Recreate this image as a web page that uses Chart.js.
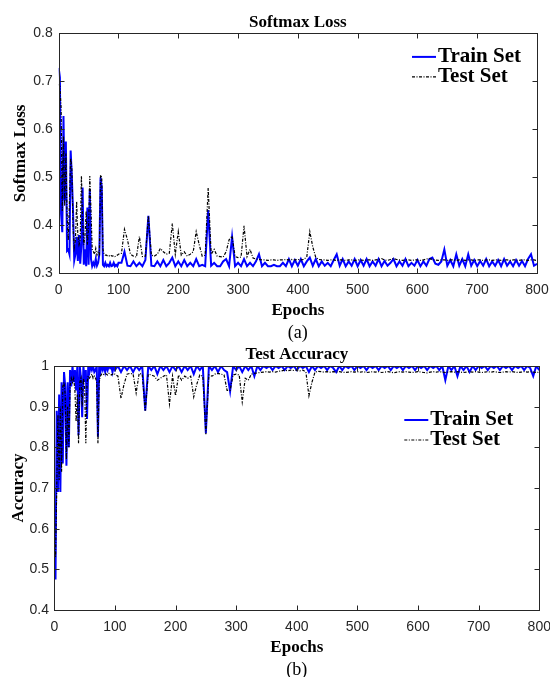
<!DOCTYPE html>
<html>
<head>
<meta charset="utf-8">
<script src="https://cdn.jsdelivr.net/npm/chart.js@4.4.1/dist/chart.umd.min.js"></script>
<style>
    body { margin: 0; background: #fff; overflow: hidden; }
    #lossBox { position: absolute; left: 0; top: 0; width: 550px; height: 345px; }
    #accBox { position: absolute; left: 0; top: 340px; width: 550px; height: 350px; }
</style>
</head>
<body>
<div id="lossBox"><canvas id="lossChart" width="550" height="345"></canvas></div>
<div id="accBox"><canvas id="accChart" width="550" height="350"></canvas></div>
<script>
// epochs: every 2 up to 100, then every 5
const epochs = [
    0, 2, 4, 6, 8, 10, 12, 14, 16, 18,
    20, 22, 24, 26, 28, 30, 32, 34, 36, 38,
    40, 42, 44, 46, 48, 50, 52, 54, 56, 58,
    60, 62, 64, 66, 68, 70, 72, 74, 76, 78,
    80, 82, 84, 86, 88, 90, 92, 94, 96, 98,
    100,
    105, 110, 115, 120, 125, 130, 135, 140, 145, 150,
    155, 160, 165, 170, 175, 180, 185, 190, 195, 200,
    205, 210, 215, 220, 225, 230, 235, 240, 245, 250,
    255, 260, 265, 270, 275, 280, 285, 290, 295, 300,
    305, 310, 315, 320, 325, 330, 335, 340, 345, 350,
    355, 360, 365, 370, 375, 380, 385, 390, 395, 400,
    405, 410, 415, 420, 425, 430, 435, 440, 445, 450,
    455, 460, 465, 470, 475, 480, 485, 490, 495, 500,
    505, 510, 515, 520, 525, 530, 535, 540, 545, 550,
    555, 560, 565, 570, 575, 580, 585, 590, 595, 600,
    605, 610, 615, 620, 625, 630, 635, 640, 645, 650,
    655, 660, 665, 670, 675, 680, 685, 690, 695, 700,
    705, 710, 715, 720, 725, 730, 735, 740, 745, 750,
    755, 760, 765, 770, 775, 780, 785, 790, 795, 800
];

const lossTrain = [
    0.728, 0.708, 0.424, 0.386, 0.628, 0.452, 0.575, 0.347, 0.350, 0.340,
    0.556, 0.500, 0.430, 0.327, 0.340, 0.376, 0.326, 0.380, 0.320, 0.360,
    0.479, 0.318, 0.350, 0.315, 0.437, 0.318, 0.476, 0.330, 0.315, 0.322,
    0.316, 0.330, 0.316, 0.322, 0.340, 0.500, 0.480, 0.318, 0.315, 0.322,
    0.315, 0.318, 0.315, 0.322, 0.315, 0.316, 0.322, 0.315, 0.318, 0.315,
    0.322,
    0.322, 0.345, 0.316, 0.315, 0.325, 0.315, 0.322, 0.315, 0.328, 0.420,
    0.316, 0.315, 0.325, 0.315, 0.328, 0.315, 0.322, 0.333, 0.315, 0.325,
    0.315, 0.328, 0.315, 0.322, 0.315, 0.330, 0.315, 0.318, 0.315, 0.432,
    0.316, 0.322, 0.315, 0.315, 0.325, 0.330, 0.315, 0.376, 0.315, 0.322,
    0.315, 0.330, 0.315, 0.322, 0.315, 0.325, 0.340, 0.315, 0.322, 0.315,
    0.315, 0.318, 0.315, 0.315, 0.322, 0.315, 0.330, 0.315, 0.328, 0.316,
    0.330, 0.315, 0.325, 0.333, 0.316, 0.330, 0.315, 0.325, 0.316, 0.322,
    0.315, 0.328, 0.340, 0.316, 0.330, 0.315, 0.325, 0.316, 0.330, 0.315,
    0.328, 0.316, 0.330, 0.315, 0.325, 0.316, 0.330, 0.315, 0.326, 0.316,
    0.322, 0.330, 0.315, 0.325, 0.316, 0.330, 0.315, 0.322, 0.316, 0.328,
    0.315, 0.325, 0.316, 0.330, 0.333, 0.320, 0.318, 0.325, 0.350, 0.316,
    0.328, 0.315, 0.340, 0.316, 0.330, 0.315, 0.340, 0.316, 0.328, 0.315,
    0.326, 0.316, 0.330, 0.315, 0.325, 0.316, 0.328, 0.315, 0.330, 0.316,
    0.325, 0.315, 0.328, 0.316, 0.326, 0.315, 0.330, 0.340, 0.316, 0.320
];

const lossTest = [
    0.694, 0.690, 0.645, 0.430, 0.586, 0.440, 0.550, 0.420, 0.369, 0.450,
    0.540, 0.520, 0.396, 0.354, 0.370, 0.450, 0.380, 0.360, 0.370, 0.503,
    0.410, 0.360, 0.380, 0.430, 0.360, 0.396, 0.503, 0.430, 0.350, 0.345,
    0.340, 0.352, 0.338, 0.345, 0.340, 0.505, 0.500, 0.350, 0.340, 0.338,
    0.338, 0.336, 0.337, 0.335, 0.337, 0.336, 0.337, 0.335, 0.337, 0.338,
    0.340,
    0.342, 0.392, 0.370, 0.340, 0.336, 0.334, 0.377, 0.335, 0.336, 0.420,
    0.338, 0.336, 0.340, 0.352, 0.345, 0.340, 0.342, 0.404, 0.340, 0.387,
    0.338, 0.345, 0.336, 0.340, 0.345, 0.387, 0.360, 0.336, 0.338, 0.478,
    0.340, 0.350, 0.336, 0.335, 0.334, 0.345, 0.370, 0.378, 0.335, 0.333,
    0.334, 0.399, 0.335, 0.350, 0.332, 0.330, 0.329, 0.328, 0.328, 0.327,
    0.328, 0.328, 0.327, 0.328, 0.328, 0.329, 0.328, 0.329, 0.328, 0.329,
    0.328, 0.329, 0.335, 0.387, 0.355, 0.333, 0.329, 0.328, 0.328, 0.327,
    0.328, 0.328, 0.327, 0.328, 0.328, 0.327, 0.328, 0.328, 0.327, 0.328,
    0.328, 0.327, 0.328, 0.328, 0.327, 0.328, 0.329, 0.331, 0.328, 0.327,
    0.329, 0.331, 0.329, 0.328, 0.327, 0.328, 0.328, 0.327, 0.328, 0.328,
    0.327, 0.328, 0.330, 0.331, 0.329, 0.328, 0.327, 0.328, 0.328, 0.327,
    0.328, 0.328, 0.327, 0.328, 0.328, 0.327, 0.328, 0.328, 0.327, 0.328,
    0.328, 0.327, 0.328, 0.328, 0.327, 0.328, 0.328, 0.327, 0.328, 0.328,
    0.327, 0.328, 0.328, 0.327, 0.328, 0.328, 0.327, 0.328, 0.328, 0.327
];

const accTrain = [
    0.520, 0.475, 0.890, 0.690, 0.930, 0.690, 0.960, 0.760, 0.985, 0.950,
    0.755, 0.960, 0.800, 0.990, 0.950, 1.000, 0.960, 0.990, 0.940, 1.000,
    0.830, 1.000, 0.970, 0.874, 1.000, 0.960, 0.990, 0.870, 1.000, 0.985,
    1.000, 0.990, 1.000, 0.985, 0.990, 1.000, 0.826, 1.000, 0.985, 1.000,
    0.990, 1.000, 0.985, 1.000, 0.990, 1.000, 0.995, 1.000, 0.985, 1.000,
    0.990,
    1.000, 0.985, 1.000, 0.990, 1.000, 0.985, 1.000, 0.990, 1.000, 0.890,
    1.000, 0.990, 1.000, 0.980, 1.000, 0.990, 1.000, 0.985, 1.000, 0.990,
    1.000, 0.985, 1.000, 0.990, 1.000, 0.980, 1.000, 0.990, 1.000, 0.835,
    1.000, 0.990, 1.000, 0.985, 1.000, 0.990, 0.985, 0.938, 1.000, 0.990,
    1.000, 0.985, 1.000, 0.990, 1.000, 0.975, 1.000, 0.990, 1.000, 0.995,
    1.000, 0.990, 1.000, 0.995, 1.000, 0.990, 1.000, 0.995, 1.000, 0.990,
    1.000, 0.995, 1.000, 0.985, 1.000, 0.990, 1.000, 0.995, 1.000, 0.990,
    1.000, 0.995, 0.985, 1.000, 0.990, 1.000, 0.995, 1.000, 0.990, 1.000,
    0.995, 1.000, 0.990, 1.000, 0.995, 1.000, 0.990, 1.000, 0.995, 1.000,
    0.990, 1.000, 0.995, 1.000, 0.990, 1.000, 0.995, 1.000, 0.990, 1.000,
    0.995, 1.000, 0.990, 1.000, 0.995, 1.000, 0.990, 1.000, 0.965, 1.000,
    0.990, 1.000, 0.975, 1.000, 0.990, 1.000, 0.985, 1.000, 0.990, 1.000,
    0.995, 1.000, 0.990, 1.000, 0.995, 1.000, 0.990, 1.000, 0.995, 1.000,
    0.990, 1.000, 0.995, 1.000, 0.990, 1.000, 0.995, 0.975, 1.000, 0.990
];

const accTest = [
    0.540, 0.530, 0.700, 0.880, 0.720, 0.900, 0.740, 0.950, 0.960, 0.930,
    0.770, 0.900, 0.800, 0.950, 0.970, 0.960, 0.970, 0.940, 0.863, 0.930,
    0.810, 0.960, 0.970, 0.900, 0.970, 0.950, 0.810, 0.960, 0.975, 0.970,
    0.975, 0.980, 0.970, 0.975, 0.970, 0.960, 0.810, 0.960, 0.975, 0.980,
    0.978, 0.980, 0.982, 0.980, 0.978, 0.982, 0.980, 0.978, 0.980, 0.982,
    0.980,
    0.975, 0.920, 0.955, 0.980, 0.982, 0.980, 0.934, 0.982, 0.980, 0.890,
    0.980, 0.978, 0.975, 0.965, 0.970, 0.975, 0.978, 0.907, 0.975, 0.927,
    0.978, 0.965, 0.975, 0.970, 0.975, 0.924, 0.955, 0.978, 0.975, 0.832,
    0.978, 0.975, 0.980, 0.982, 0.980, 0.978, 0.940, 0.940, 0.978, 0.980,
    0.978, 0.912, 0.970, 0.965, 0.980, 0.982, 0.983, 0.984, 0.985, 0.986,
    0.985, 0.986, 0.985, 0.987, 0.988, 0.990, 0.988, 0.990, 0.989, 0.990,
    0.988, 0.990, 0.985, 0.927, 0.960, 0.985, 0.987, 0.986, 0.985, 0.986,
    0.985, 0.986, 0.985, 0.986, 0.985, 0.984, 0.985, 0.986, 0.985, 0.986,
    0.985, 0.986, 0.984, 0.985, 0.986, 0.985, 0.986, 0.984, 0.985, 0.986,
    0.985, 0.983, 0.985, 0.986, 0.985, 0.986, 0.985, 0.984, 0.985, 0.986,
    0.985, 0.984, 0.983, 0.985, 0.986, 0.985, 0.986, 0.985, 0.984, 0.985,
    0.986, 0.985, 0.986, 0.985, 0.984, 0.985, 0.986, 0.985, 0.986, 0.985,
    0.984, 0.985, 0.986, 0.985, 0.986, 0.985, 0.984, 0.985, 0.986, 0.985,
    0.986, 0.985, 0.984, 0.985, 0.986, 0.985, 0.986, 0.985, 0.984, 0.985
];

const seriesLabels = ['Train Set', 'Test Set'];
const epochTicks = ['0', '100', '200', '300', '400', '500', '600', '700', '800'];
const lossTicks = ['0.3', '0.4', '0.5', '0.6', '0.7', '0.8'];
const accTicks = ['0.4', '0.5', '0.6', '0.7', '0.8', '0.9', '1'];

const AXIS_COLOR = '#262626';
const SANS = '"Liberation Sans", Arial, sans-serif';
const SERIF = '"Liberation Serif", "Times New Roman", serif';
const tickFont = { family: SANS, size: 14 };
const boldSerif = (size) => ({ family: SERIF, size: size, weight: 'bold' });

const toPoints = (values) => epochs.map((e, i) => ({ x: e, y: values[i] }));

// matlab style frame with inward ticks, and the legend in the upper right corner
const boxPlugin = {
    id: 'matlabBox',
    afterDraw(chart, args, opts) {
        const { ctx, chartArea: a, scales } = chart;
        const L = Math.round(a.left) + 0.5, R = Math.round(a.right) + 0.5;
        const T = Math.round(a.top) + 0.5, B = Math.round(a.bottom) + 0.5;
        ctx.save();
        ctx.strokeStyle = AXIS_COLOR;
        ctx.lineWidth = 1;
        ctx.setLineDash([]);
        ctx.strokeRect(L, T, R - L, B - T);

        ctx.beginPath();
        scales.x.ticks.forEach((t) => {
            const px = Math.round(scales.x.getPixelForValue(t.value)) + 0.5;
            ctx.moveTo(px, B); ctx.lineTo(px, B - 5);
            ctx.moveTo(px, T); ctx.lineTo(px, T + 5);
        });
        scales.y.ticks.forEach((t) => {
            const py = Math.round(scales.y.getPixelForValue(t.value)) + 0.5;
            ctx.moveTo(L, py); ctx.lineTo(L + 5, py);
            ctx.moveTo(R, py); ctx.lineTo(R - 5, py);
        });
        ctx.stroke();

        chart.data.datasets.forEach((ds, i) => {
            const y = a.top + opts.top + i * 20;
            const x0 = a.right - opts.right;
            ctx.beginPath();
            ctx.strokeStyle = ds.borderColor;
            ctx.lineWidth = ds.borderWidth;
            ctx.setLineDash(ds.borderDash || []);
            ctx.moveTo(x0, y);
            ctx.lineTo(x0 + 24, y);
            ctx.stroke();
            ctx.setLineDash([]);
            ctx.fillStyle = '#000';
            ctx.font = 'bold 21px ' + SERIF;
            ctx.textBaseline = 'middle';
            ctx.textAlign = 'left';
            ctx.fillText(ds.label, x0 + 26, y);
        });
        ctx.restore();
    }
};

const makeChart = (id, cfg) => new Chart(document.getElementById(id), {
    type: 'line',
    data: {
        datasets: [
            {
                label: seriesLabels[0],
                data: toPoints(cfg.train),
                borderColor: '#0000ff',
                borderWidth: 2,
                order: 1
            },
            {
                label: seriesLabels[1],
                data: toPoints(cfg.test),
                borderColor: '#000000',
                borderWidth: 1.2,
                borderDash: [3, 1.5, 1, 1.5],
                order: 0
            }
        ]
    },
    options: {
        responsive: false,
        animation: false,
        devicePixelRatio: 1,
        layout: { padding: { left: 0, right: cfg.padRight, top: 0, bottom: 0 } },
        elements: {
            point: { radius: 0, hoverRadius: 0 },
            line: { tension: 0 }
        },
        plugins: {
            legend: { display: false },
            tooltip: { enabled: false },
            title: {
                display: true,
                fullSize: false,
                text: cfg.title,
                color: '#000',
                font: boldSerif(17),
                padding: cfg.titlePad
            },
            subtitle: {
                display: true,
                fullSize: false,
                position: 'bottom',
                text: cfg.caption,
                color: '#000',
                font: { family: SERIF, size: 18 },
                padding: cfg.captionPad
            },
            matlabBox: cfg.legend
        },
        scales: {
            x: {
                type: 'linear',
                min: 0,
                max: 800,
                grid: { display: false, drawTicks: false },
                border: { display: false },
                ticks: {
                    stepSize: 100,
                    autoSkip: false,
                    maxRotation: 0,
                    color: AXIS_COLOR,
                    font: tickFont,
                    padding: cfg.xTickPad,
                    callback: (v, i) => epochTicks[i]
                },
                title: {
                    display: true,
                    text: 'Epochs',
                    color: '#000',
                    font: boldSerif(17),
                    padding: { top: 0, bottom: cfg.xTitlePad }
                },
                afterFit: (s) => {
                    s.height = cfg.xHeight;
                    s.paddingLeft = 0;
                    s.paddingRight = 0;
                }
            },
            y: {
                min: cfg.yMin,
                max: cfg.yMax,
                grid: { display: false, drawTicks: false },
                border: { display: false },
                ticks: {
                    stepSize: 0.1,
                    color: AXIS_COLOR,
                    font: tickFont,
                    padding: cfg.yTickPad,
                    callback: (v, i) => cfg.yTicks[i]
                },
                title: {
                    display: true,
                    text: cfg.yTitle,
                    color: '#000',
                    font: boldSerif(17),
                    padding: { top: cfg.yTitlePad, bottom: 0 }
                },
                afterFit: (s) => {
                    s.width = cfg.yWidth;
                    s.paddingTop = 0;
                    s.paddingBottom = 0;
                }
            }
        }
    },
    plugins: [boxPlugin]
});

makeChart('lossChart', {
    train: lossTrain,
    test: lossTest,
    title: 'Softmax Loss',
    caption: '(a)',
    yTitle: 'Softmax Loss',
    yTicks: lossTicks,
    yMin: 0.3,
    yMax: 0.8,
    padRight: 13,
    titlePad: { top: 12, bottom: 1 },
    captionPad: { top: 0, bottom: 1 },
    xHeight: 49,
    xTickPad: 8,
    xTitlePad: 2,
    yWidth: 58.7,
    yTickPad: 6,
    yTitlePad: 10,
    legend: { top: 23.5, right: 125 }
});

makeChart('accChart', {
    train: accTrain,
    test: accTest,
    title: 'Test Accuracy',
    caption: '(b)',
    yTitle: 'Accuracy',
    yTicks: accTicks,
    yMin: 0.4,
    yMax: 1,
    padRight: 10.7,
    titlePad: { top: 4.8, bottom: 0.8 },
    captionPad: { top: 0, bottom: 9.2 },
    xHeight: 49.2,
    xTickPad: 8.6,
    xTitlePad: 1,
    yWidth: 54.3,
    yTickPad: 5.3,
    yTitlePad: 8.8,
    legend: { top: 54, right: 135 }
});
</script>
</body>
</html>
